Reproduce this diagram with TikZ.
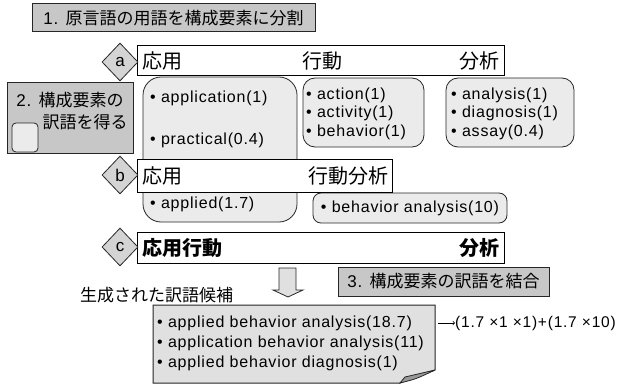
\documentclass[tikz,border=0pt]{standalone}
\usepackage{fontspec}
\setmainfont{Liberation Sans}[LetterSpace=5]
\newfontfamily\jp{Noto Sans CJK JP}
\usepackage{tikz}
\usetikzlibrary{shapes.geometric}
\tikzstyle{stepbox}=[draw=black!85, fill=black!22, line width=1pt, inner sep=0pt, font=\fontsize{17}{20}\selectfont]
\tikzstyle{rowbox}=[draw, fill=white, line width=1pt, inner sep=0pt]
\tikzstyle{listbox}=[draw=black!85, fill=black!8, line width=0.8pt, rounded corners=12pt, inner sep=0pt]
\tikzstyle{tag}=[draw=black!85, fill=black!17, diamond, line width=0.8pt, inner sep=0pt, minimum width=36pt, minimum height=38pt, font=\fontsize{17}{20}\selectfont]
\tikzstyle{head}=[inner sep=0pt, font=\jp\fontsize{20}{22}\selectfont]
\tikzstyle{item}=[inner sep=0pt, font=\fontsize{16}{19}\selectfont]

\begin{document}
\begin{tikzpicture}[x=1pt, y=-1pt]
        \useasboundingbox (0,0) rectangle (623,385);
        \node[stepbox, minimum width=283pt, minimum height=28pt] (S1) at (173.5,18) {1. {\jp 原言語の用語を構成要素に分割}};
        % translations of each part
        \node[listbox, rounded corners=18pt, minimum width=154pt, minimum height=145pt] (L1) at (220,149.5) {};
        \node[listbox, minimum width=121pt, minimum height=69pt] (L2) at (363.5,112.5) {};
        \node[listbox, minimum width=128pt, minimum height=69pt] (L3) at (510,112.5) {};
        \node[listbox, rounded corners=8pt, minimum width=194pt, minimum height=30pt] (L4) at (410,208) {};
        \node[item, anchor=west] (I1) at (150,98) {• application(1)};
        \node[item, anchor=west] (I2) at (150,140) {• practical(0.4)};
        \node[item, anchor=west] (I3) at (150,204) {• applied(1.7)};
        \node[item, anchor=west] (I4) at (306,95) {• action(1)};
        \node[item, anchor=west] (I5) at (306,113) {• activity(1)};
        \node[item, anchor=west] (I6) at (306,132) {• behavior(1)};
        \node[item, anchor=west] (I7) at (451,95) {• analysis(1)};
        \node[item, anchor=west] (I8) at (451,113) {• diagnosis(1)};
        \node[item, anchor=west] (I9) at (451,132) {• assay(0.4)};
        \node[item] (I10) at (L4) {• behavior analysis(10)};
        % split rows
        \node[rowbox, minimum width=367pt, minimum height=30pt] (Ra) at (320.5,61) {};
        \node[rowbox, minimum width=255pt, minimum height=33pt] (Rb) at (264.5,175.5) {};
        \node[rowbox, minimum width=367pt, minimum height=31pt] (Rc) at (320.5,247.5) {};
        \node[tag] (Ta) at (120,62) {a};
        \node[tag] (Tb) at (120,175) {b};
        \node[tag] (Tc) at (120,247) {c};
        \node[head, anchor=west] (Ha1) at (142,61) {応用};
        \node[head, anchor=west] (Ha2) at (302,61) {行動};
        \node[head, anchor=east] (Ha3) at (500,61) {分析};
        \node[head, anchor=west] (Hb1) at (142,175.5) {応用};
        \node[head, anchor=east] (Hb2) at (389,175.5) {行動分析};
        \node[head, font=\jp\bfseries\fontsize{20}{22}\selectfont, anchor=west] (Hc1) at (142,247.5) {応用行動};
        \node[head, font=\jp\bfseries\fontsize{20}{22}\selectfont, anchor=east] (Hc2) at (500,247.5) {分析};
        % step 2
        \node[stepbox, minimum width=126pt, minimum height=70pt] (S2) at (70,118) {};
        \node[listbox, rounded corners=4pt, minimum width=26pt, minimum height=29pt] (S2k) at (25,137.5) {};
        \node[inner sep=0pt, font=\fontsize{17}{20}\selectfont] (S2a) at (70,100) {2. {\jp 構成要素の}};
        \node[inner sep=0pt, font=\jp\fontsize{17}{20}\selectfont] (S2b) at (85,122) {訳語を得る};
        % step 3
        \draw[fill=black!12, draw=black!85, line width=0.8pt] (279,268) -- (296,268) -- (296,290) -- (303,290) -- (288,297) -- (273,290) -- (279,290) -- cycle;
        \node[inner sep=0pt, font=\jp\fontsize{17}{20}\selectfont, anchor=west] (G) at (80,295) {生成された訳語候補};
        \node[stepbox, minimum width=211pt, minimum height=29pt] (S3) at (443.5,281.5) {3. {\jp 構成要素の訳語を結合}};
        \draw[fill=black!12, draw=black!85, line width=1pt] (153,305) -- (435,305) -- (435,370) -- (400,383) -- (153,383) -- cycle;
        \draw[fill=black!40, draw=black!85, line width=0.8pt] (435,370) -- (405,377) -- (400,383) .. controls (416,379) .. (435,370);
        \node[item, anchor=west] (C1) at (157,323) {• applied behavior analysis(18.7)};
        \node[item, anchor=west] (C2) at (157,343) {• application behavior analysis(11)};
        \node[item, anchor=west] (C3) at (157,363) {• applied behavior diagnosis(1)};
        \coordinate (Fs) at (438,323);
        \node[item, font=\fontsize{15.5}{18}\selectfont, anchor=west] (F) at (455,323) {(1.7 ×1 ×1)+(1.7 ×10)};
        \draw[->, line width=0.7pt] (Fs) -- (F);
\end{tikzpicture}
\end{document}
